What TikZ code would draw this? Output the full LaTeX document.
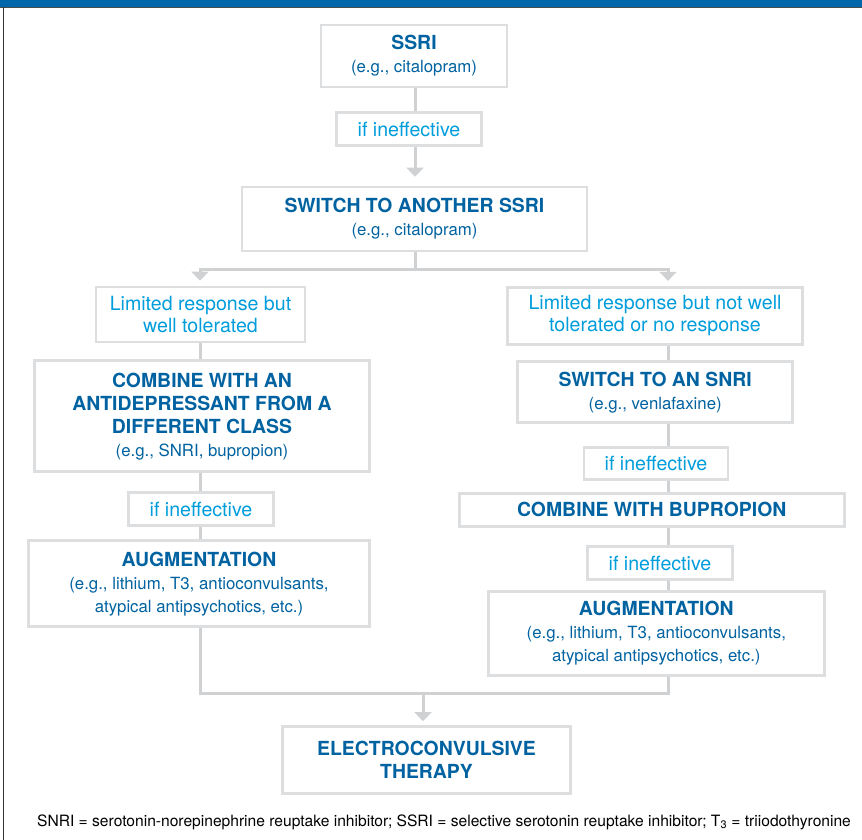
\documentclass[tikz,border=0pt]{standalone}
\usepackage{fontspec}
\setmainfont{TeX Gyre Heros}
\usetikzlibrary{arrows.meta}
\definecolor{barblue}{RGB}{0,104,170}
\definecolor{headblue}{RGB}{0,98,160}
\definecolor{condblue}{RGB}{0,157,220}
\definecolor{boxgray}{RGB}{221,222,223}
\definecolor{linegray}{RGB}{208,209,211}
\newcommand{\hd}{\bfseries}
\newcommand{\eg}{\fontsize{16.8}{23}\selectfont}

\begin{document}
\begin{tikzpicture}[x=1pt,y=-1pt,
  box/.style={draw=boxgray, line width=2.7pt, inner sep=0pt, align=center,
    text=headblue, font=\fontsize{19.4}{23}\selectfont},
  cond/.style={box, text=condblue, font=\fontsize{19.6}{21.5}\selectfont},
  conn/.style={draw=linegray, line width=3pt},
  arr/.style={conn, -{Triangle[width=17pt,length=9pt]}}]
\useasboundingbox (0,0) rectangle (862,840);

%frame
\fill[barblue] (0,0) rectangle (862,7);
\draw[black!70, line width=1pt] (0,7.5) -- (862,7.5);
\draw[black!80, line width=1pt] (3.5,7.5) -- (3.5,840);

%axes of the columns
\coordinate (cax) at (415,0);
\coordinate (lax) at (200,0);
\coordinate (rax) at (668,0);

%top
\node[box, minimum width=186, minimum height=62] (ssri) at (414,56)
  {{\hd SSRI}\\{\eg (e.g., citalopram)}};
\node[cond, minimum width=145, minimum height=33] (inef1) at (409,129) {if ineffective};
\node[box, minimum width=345, minimum height=64] (switch) at (414.5,219)
  {{\hd SWITCH TO ANOTHER SSRI}\\{\eg (e.g., citalopram)}};

%left column
\node[cond, minimum width=209, minimum height=55] (condL) at (200.5,314.5)
  {Limited response but\\well tolerated};
\node[box, minimum width=335, minimum height=111] (combL) at (202,416.3)
  {{\hd COMBINE WITH AN}\\{\hd ANTIDEPRESSANT FROM A}\\{\hd DIFFERENT CLASS}\\{\eg (e.g., SNRI, bupropion)}};
\node[cond, minimum width=145, minimum height=33] (inefL) at (201,509.2) {if ineffective};
\node[box, minimum width=341, minimum height=86] (augL) at (199,583.8)
  {{\hd AUGMENTATION}\\{\eg (e.g., lithium, T3, antioconvulsants,}\\{\eg atypical antipsychotics, etc.)}};

%right column
\node[cond, minimum width=295, minimum height=57] (condR) at (655,315.7)
  {Limited response but not well\\tolerated or no response};
\node[box, minimum width=275, minimum height=61] (swR) at (655.2,392.2)
  {{\hd SWITCH TO AN SNRI}\\{\eg (e.g., venlafaxine)}};
\node[cond, minimum width=144, minimum height=32] (inefR1) at (656,463.8) {if ineffective};
\node[box, minimum width=385, minimum height=33] (bupR) at (651.7,509.7) {\hd COMBINE WITH BUPROPION};
\node[cond, minimum width=145, minimum height=33] (inefR2) at (660,563.3) {if ineffective};
\node[box, minimum width=336, minimum height=84] (augR) at (656.3,633.5)
  {{\hd AUGMENTATION}\\{\eg (e.g., lithium, T3, antioconvulsants,}\\{\eg atypical antipsychotics, etc.)}};

%bottom
\node[box, minimum width=288, minimum height=67] (ect) at (426.5,760)
  {{\hd ELECTROCONVULSIVE}\\{\hd THERAPY}};
\node[font=\fontsize{15.6}{17}\selectfont, inner sep=0pt] (note) at (444,822)
  {SNRI = serotonin-norepinephrine reuptake inhibitor; SSRI = selective serotonin reuptake inhibitor; T\textsubscript{3} = triiodothyronine};

%connectors
\draw[conn] (ssri.south -| cax) -- (inef1.north -| cax);
\draw[arr, shorten >=9pt] (inef1.south -| cax) -- (switch.north -| cax);
\draw[conn] (switch.south -| cax) -- ++(0,17) coordinate (split);
\draw[arr, shorten >=5pt] (split) -| (condL.north -| lax);
\draw[arr, shorten >=5pt] (split) -| (condR.north -| rax);
\foreach \a/\b in {condL/combL, combL/inefL, inefL/augL}{
  \draw[conn] (\a.south -| lax) -- (\b.north -| lax);
}
\foreach \a/\b in {condR/swR, swR/inefR1, inefR1/bupR, bupR/inefR2, inefR2/augR}{
  \draw[conn] (\a.south -| rax) -- (\b.north -| rax);
}
\coordinate (join) at (423,693);
\draw[conn] (augL.south -| lax) -- (lax |- join) -- (rax |- join) -- (augR.south -| rax);
\draw[arr, shorten >=4pt] (join) -- (ect.north -| join);

\end{tikzpicture}
\end{document}
